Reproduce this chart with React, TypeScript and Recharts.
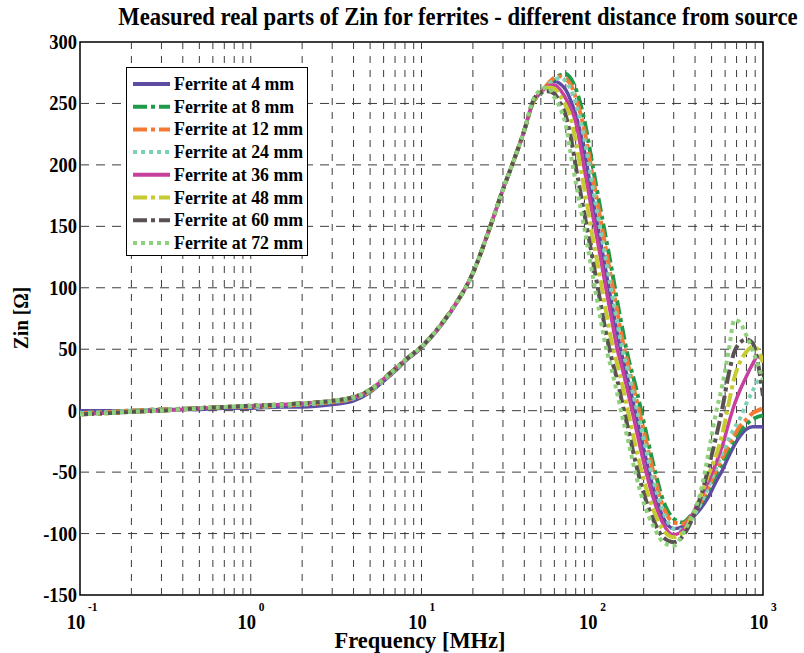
import React from 'react';
import { LineChart, Line, XAxis, YAxis, ReferenceLine, ReferenceArea } from 'recharts';

const freqMHz = [0.1, 0.15, 0.2, 0.3, 0.5, 0.7, 1, 1.5, 2, 3, 4, 5, 6, 7, 8, 10, 12, 15, 20, 25, 30, 35, 40,
  45, 50, 55, 60, 65, 70, 75, 80, 90, 100, 110, 120, 130, 140, 150, 160, 180, 200,
  230, 260, 300, 340, 380, 430, 480, 530, 580, 630, 680, 730, 800, 870, 930, 1000];

const zin4mm = [0, 0, 0, 1, 1, 2, 2, 3, 3, 5, 8, 15, 24, 32, 40, 51, 63, 81, 112, 148, 180, 205, 228,
  251, 259, 265, 268, 266, 261, 252, 241, 211, 174, 143, 114, 87, 63, 44, 28, -3, -31,
  -65, -87, -96, -94, -88, -80, -70, -58, -48, -37, -28, -21, -15, -13, -13, -13];
const zin8mm = [-2, -1, 0, 1, 2, 3, 3, 4, 5, 7, 10, 16, 25, 33, 41, 52, 64, 82, 112, 148, 180, 205, 228,
  251, 258, 265, 270, 273, 274, 270, 262, 236, 201, 169, 141, 115, 89, 67, 47, 19, -9,
  -46, -73, -88, -91, -85, -76, -64, -52, -42, -32, -24, -17, -11, -7, -5, -4];
const zin12mm = [-2, -1, 0, 1, 2, 3, 3, 4, 5, 7, 10, 16, 25, 33, 41, 52, 64, 82, 112, 148, 180, 205, 228,
  251, 259, 266, 271, 272, 270, 265, 255, 228, 193, 161, 132, 105, 81, 58, 41, 11, -16,
  -52, -78, -91, -92, -86, -75, -62, -49, -38, -28, -20, -13, -7, -2, 0, 2];
const zin24mm = [-2, -1, 0, 1, 2, 3, 3, 4, 5, 7, 10, 16, 25, 33, 41, 52, 64, 82, 112, 148, 180, 205, 228,
  251, 259, 265, 269, 271, 268, 261, 250, 221, 184, 152, 123, 96, 72, 50, 35, 4, -23,
  -59, -82, -96, -97, -89, -76, -62, -47, -34, -23, -14, -7, 6, 16, 24, 26];
const zin36mm = [-3, -2, -1, 0, 2, 3, 4, 5, 6, 8, 11, 17, 26, 34, 41, 52, 64, 82, 112, 148, 180, 205, 228,
  251, 259, 264, 265, 261, 254, 246, 235, 196, 161, 130, 100, 74, 50, 34, 18, -14, -42,
  -73, -92, -101, -97, -86, -71, -57, -43, -28, -10, 5, 16, 28, 38, 44, 41];
const zin48mm = [-3, -2, -1, 0, 2, 3, 4, 5, 6, 8, 11, 17, 26, 34, 41, 52, 64, 82, 112, 148, 180, 205, 228,
  251, 259, 263, 262, 256, 248, 238, 219, 180, 143, 112, 82, 56, 38, 21, 3, -30, -56,
  -82, -97, -103, -99, -87, -70, -52, -37, -18, 6, 27, 39, 48, 52, 50, 39];
const zin60mm = [-3, -2, -1, 0, 2, 3, 4, 5, 6, 8, 11, 17, 26, 34, 41, 52, 64, 82, 112, 148, 180, 205, 228,
  252, 259, 260, 258, 250, 240, 222, 199, 160, 125, 93, 64, 42, 25, 6, -11, -43, -67,
  -90, -103, -107, -102, -90, -71, -46, -22, 3, 30, 48, 55, 58, 55, 40, 12];
const zin72mm = [-3, -2, -1, 0, 2, 3, 4, 5, 6, 8, 11, 17, 26, 34, 41, 52, 64, 82, 112, 148, 180, 205, 228,
  253, 261, 263, 255, 246, 232, 208, 186, 148, 112, 80, 52, 33, 14, -5, -21, -52, -75,
  -95, -107, -110, -100, -87, -67, -34, -2, 22, 49, 74, 72, 61, 49, 38, 25];

const majorTicks = [0.1, 1, 10, 100, 1000];
const gridFreqs = [0.2, 0.3, 0.4, 0.5, 0.6, 0.7, 0.8, 0.9, 1, 2, 3, 4, 5, 6, 7, 8, 9, 10,
  20, 30, 40, 50, 60, 70, 80, 90, 100, 200, 300, 400, 500, 600, 700, 800, 900];
const yTicks = [-150, -100, -50, 0, 50, 100, 150, 200, 250, 300];
const yGrid = [-100, -50, 0, 50, 100, 150, 200, 250];

const series = [
  { key: 'm4', name: 'Ferrite at 4 mm', values: zin4mm, color: '#5E4BA2', dash: undefined, width: 3.5 },
  { key: 'm8', name: 'Ferrite at 8 mm', values: zin8mm, color: '#1F9A48', dash: '14 4 4 4', width: 4 },
  { key: 'm12', name: 'Ferrite at 12 mm', values: zin12mm, color: '#F47A33', dash: '14 4 4 4', width: 4 },
  { key: 'm24', name: 'Ferrite at 24 mm', values: zin24mm, color: '#7FD1B5', dash: '4 4', width: 4 },
  { key: 'm36', name: 'Ferrite at 36 mm', values: zin36mm, color: '#C8409D', dash: undefined, width: 3.5 },
  { key: 'm48', name: 'Ferrite at 48 mm', values: zin48mm, color: '#C6CB2F', dash: '14 4 4 4', width: 4 },
  { key: 'm60', name: 'Ferrite at 60 mm', values: zin60mm, color: '#5A5252', dash: '14 4 4 4', width: 4 },
  { key: 'm72', name: 'Ferrite at 72 mm', values: zin72mm, color: '#8FD07C', dash: '4 4', width: 4 },
];

const data = freqMHz.map((f, i) => {
  const row: any = { f };
  series.forEach((s) => { row[s.key] = s.values[i]; });
  return row;
});

const FONT = '"Liberation Serif", "Times New Roman", serif';

const SText = ({ x, y, size, anchor = 'start', children, rotate = 0, sx = 0.88 }: any) => (
  <g transform={`translate(${x},${y}) rotate(${rotate}) scale(${sx},1)`}>
    <text x={0} y={0} fontFamily={FONT} fontWeight="bold" fontSize={size} textAnchor={anchor} fill="#000">
      {children}
    </text>
  </g>
);

const XTick = (props: any) => {
  const { x, payload } = props;
  const exp = Math.round(Math.log10(payload.value));
  return (
    <g>
      <SText x={x - 4} y={629} size={21} anchor="middle">10</SText>
      <SText x={x + 8} y={611} size={13} anchor="start">{String(exp)}</SText>
    </g>
  );
};

const YTick = (props: any) => {
  const { y, payload } = props;
  return <SText x={77} y={y + 7} size={21} anchor="end">{String(payload.value)}</SText>;
};

const GRID = '#3c3c3c';

export default function App() {
  return (
    <div style={{ position: 'absolute', left: 0, top: 0, width: 804, height: 653, background: '#fff' }}>
      <svg width={804} height={40} style={{ position: 'absolute', left: 0, top: 0 }}>
        <SText x={458} y={25} size={25} anchor="middle" sx={0.907}>
          Measured real parts of Zin for ferrites - different distance from source
        </SText>
      </svg>
      <LineChart width={804} height={653} data={data} margin={{ top: 42, right: 41, bottom: 0, left: 0 }}>
        <XAxis dataKey="f" type="number" scale="log" domain={[0.1, 1000]} allowDataOverflow
          ticks={majorTicks} tick={<XTick />} tickLine={false} axisLine={false} tickSize={0} tickMargin={0} height={58} />
        <YAxis type="number" domain={[-150, 300]} ticks={yTicks} tick={<YTick />} tickLine={false}
          axisLine={false} tickSize={0} tickMargin={0} width={80} allowDataOverflow />
        {gridFreqs.map((f) => (
          <ReferenceLine key={'v' + f} x={f} stroke={GRID} strokeWidth={1} strokeDasharray="7 7" />
        ))}
        {yGrid.map((v) => (
          <ReferenceLine key={'h' + v} y={v} stroke={GRID} strokeWidth={1} strokeDasharray="9 7" />
        ))}
        {series.map((s) => (
          <Line key={s.key} dataKey={s.key} name={s.name} type="monotone" stroke={s.color}
            strokeWidth={s.width} strokeDasharray={s.dash} dot={false} isAnimationActive={false} />
        ))}
        <ReferenceArea x1={0.1} x2={1000} y1={-150} y2={300} fill="none" fillOpacity={0}
          stroke="#000" strokeWidth={1.5} />
      </LineChart>
      <svg width={804} height={653} style={{ position: 'absolute', left: 0, top: 0, pointerEvents: 'none' }}>
        <SText x={420} y={648} size={24} anchor="middle" sx={0.935}>Frequency [MHz]</SText>
        <SText x={28} y={318} size={22} anchor="middle" rotate={-90}>Zin [Ω]</SText>
        <rect x={126.5} y={67.5} width={181} height={188} fill="#fff" stroke="#000" strokeWidth={1} />
        {series.map((s, i) => {
          const cy = 84 + i * 22.7;
          return (
            <g key={s.key}>
              <line x1={133} x2={170} y1={cy} y2={cy} stroke={s.color} strokeWidth={4}
                strokeDasharray={s.dash} />
              <SText x={174} y={cy + 6} size={18} sx={0.99}>{s.name}</SText>
            </g>
          );
        })}
      </svg>
    </div>
  );
}
